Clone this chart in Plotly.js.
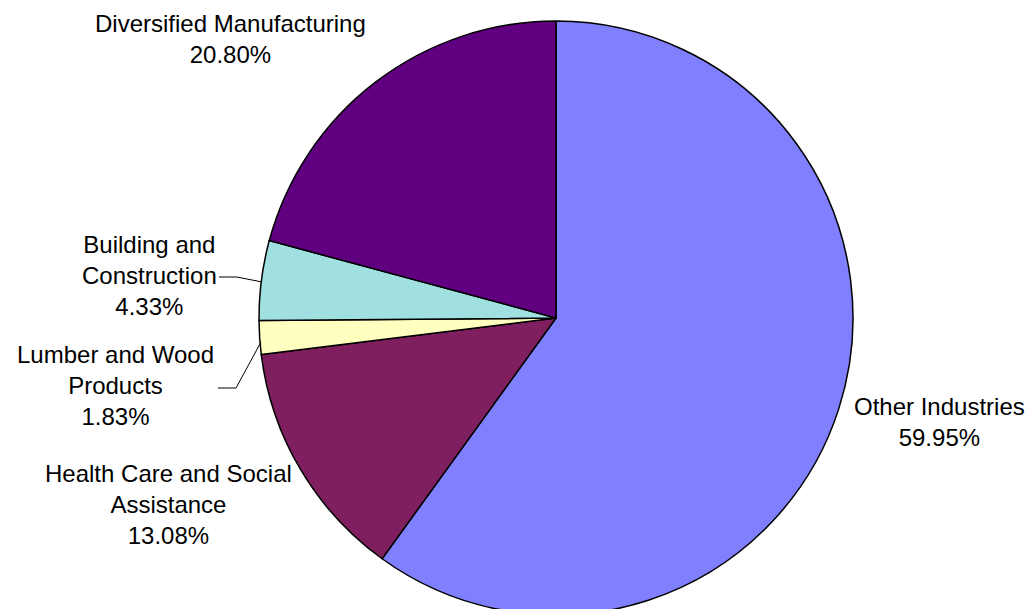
<!DOCTYPE html>
<html>
<head>
<meta charset="utf-8">
<script src="https://cdn.plot.ly/plotly-3.0.1.min.js"></script>
<style>
html,body{margin:0;padding:0;overflow:hidden;background:#fff;width:1030px;height:609px;}
#chart{width:1030px;height:630px;}
</style>
</head>
<body>
<div id="chart"></div>
<script>
// Data
const categories = ["Other Industries", "Health Care and Social Assistance", "Lumber and Wood Products", "Building and Construction", "Diversified Manufacturing"];
const shares = [59.95, 13.08, 1.83, 4.33, 20.80];
const labelTexts = ["Other Industries", "Health Care and Social<br>Assistance", "Lumber and Wood<br>Products", "Building and<br>Construction", "Diversified Manufacturing"];
const sliceColors = ["#8080FF", "#7F1F5F", "#FFFFC0", "#A0E0E0", "#600080"];

const W = 1030, H = 630;
const px = x => x / W;
const py = y => 1 - y / H;

// label placement (pixel centres)
const labelPos = [[939, 422], [168, 504], [115, 385], [149, 275], [230, 39]];

const annotations = categories.map((c, i) => ({
  xref: "paper", yref: "paper",
  x: px(labelPos[i][0]), y: py(labelPos[i][1]),
  xanchor: "center", yanchor: "middle",
  text: labelTexts[i] + "<br>" + shares[i].toFixed(2) + "%",
  showarrow: false, align: "center",
  font: {family: "Liberation Sans, Arial, sans-serif", size: 24, color: "#000"}
}));

const leader = (pts) => ({
  type: "path", xref: "paper", yref: "paper",
  path: "M" + pts.map(p => px(p[0]) + "," + py(p[1])).join(" L"),
  line: {color: "#000", width: 1}
});

const layout = {
  width: W, height: H,
  margin: {l: 0, r: 0, t: 0, b: 0},
  paper_bgcolor: "#fff",
  showlegend: false,
  hovermode: false,
  annotations: annotations,
  shapes: [
    leader([[219, 277], [237, 277], [262, 282]]),
    leader([[218, 388], [236, 388], [261, 342]])
  ]
};

const trace = {
  type: "pie",
  values: shares,
  labels: categories,
  sort: false,
  direction: "clockwise",
  rotation: 0,
  textinfo: "none",
  hoverinfo: "skip",
  marker: {colors: sliceColors, line: {color: "#000", width: 1.5}},
  domain: {x: [px(259), px(853)], y: [py(615), py(21)]}
};

Plotly.newPlot("chart", [trace], layout, {displayModeBar: false, staticPlot: true});
</script>
</body>
</html>
